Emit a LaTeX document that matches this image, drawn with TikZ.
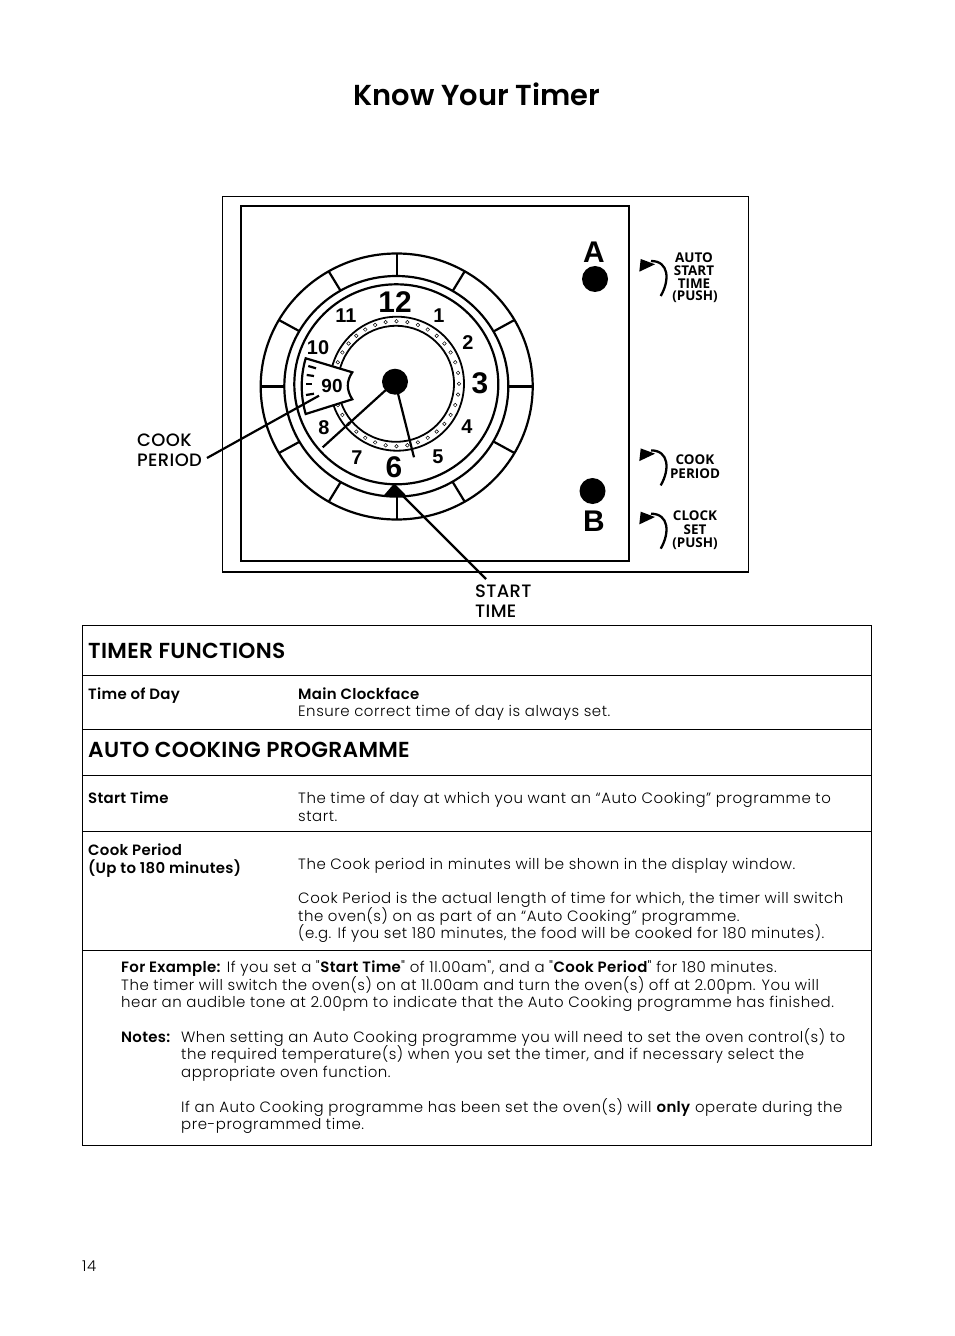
\documentclass[tikz,border=0pt]{standalone}
\usepackage{fontspec}
\usetikzlibrary{calc}
\defaultfontfeatures[\rmfamily]{}
\setmainfont{Poppins Light}[LetterSpace=3.6, BoldFont={Poppins SemiBold}, BoldFeatures={LetterSpace=2}]
\newfontfamily\dialfont{Liberation Sans}
\newfontfamily\keyfont{Open Sans}
\newfontfamily\headfont{Poppins SemiBold}
\newfontfamily\callfont{Poppins Medium}
\tikzset{
  bodytxt/.style={anchor=base west, inner sep=0pt, font=\fontsize{15}{17.5}\selectfont},
  headtxt/.style={anchor=base west, inner sep=0pt, font=\headfont\fontsize{21.8}{25}\selectfont\addfontfeature{LetterSpace=1.5}},
  calltxt/.style={anchor=base west, inner sep=0pt, font=\callfont\fontsize{18}{20}\selectfont\addfontfeature{LetterSpace=2}},
  keytxt/.style={anchor=center, inner sep=0pt, font=\keyfont\fontsize{13.5}{13}\selectfont\bfseries},
  hournum/.style={inner sep=0pt, font=\dialfont\fontsize{20}{20}\selectfont\bfseries},
  bighour/.style={inner sep=0pt, font=\dialfont\fontsize{30}{30}\selectfont\bfseries},
  rule/.style={line width=1bp},
  dialline/.style={line width=2.2bp},
  ringline/.style={line width=1.8bp},
  hubdisc/.style={circle, fill=black, inner sep=0pt, minimum size=26bp},
}
\begin{document}
\begin{tikzpicture}[x=1bp, y=-1bp]
  \useasboundingbox (0,0) rectangle (954,1336);
  % title
  \node[anchor=base, inner sep=0pt, font=\headfont\fontsize{29}{35}\selectfont] (title) at (477,106) {Know Your Timer};
  % panel
  \draw[rule] (222.5,196.5) rectangle (748.5,572);
  \draw[line width=1.5bp] (222.5,572) -- (748.5,572);
  \draw[line width=2bp] (241,206) rectangle (628.5,561);
  % dial rings
  \coordinate (c) at (396.7,386.5);
  \draw[dialline] (c) ellipse[x radius=136bp, y radius=133bp];
  \draw[dialline] (396.3,386.3) ellipse[x radius=112bp, y radius=110.3bp];
  \draw[dialline] (396.3,384.3) ellipse[x radius=102bp, y radius=100bp];
  \draw[ringline] (397,383.7) circle[radius=67bp];
  \draw[ringline] (396,383.8) circle[radius=58bp];
  \foreach \a in {0,30,...,330} {
    \draw[dialline] ($(c)+(\a:112bp and 110.3bp)$) -- ($(c)+(\a:136bp and 133bp)$);
  }
  \foreach \a in {0,10,...,350} {
    \draw[line width=0.5bp] ($(396.5,383.7)+(\a:62.5bp)$) circle[radius=1.8bp];
  }
  % hours
  \node[bighour] (h12) at (395,302) {12};
  \node[bighour] (h3) at (480,383) {3};
  \node[bighour] (h6) at (394,467) {6};
  \node[hournum] (h1) at (439,316) {1};
  \node[hournum] (h2) at (468,343) {2};
  \node[hournum] (h4) at (467,427) {4};
  \node[hournum] (h5) at (438,457) {5};
  \node[hournum] (h7) at (357,458) {7};
  \node[hournum] (h8) at (324,428) {8};
  \node[hournum] (h10) at (318,348) {10};
  \node[hournum] (h11) at (346,316) {11};
  % cook period window
  \draw[dialline, fill=white] (305.7,358.3) -- (352.3,372.3)
    .. controls (346.3,381) and (346.3,390) .. (352.3,399.3)
    -- (305.7,414) .. controls (300.4,396) and (300.4,376) .. (305.7,358.3) -- cycle;
  \draw[dialline] (308.3,366) -- (316,368.3);
  \draw[dialline] (306.7,375) -- (314,376);
  \draw[dialline] (306,384.3) -- (312.3,384.3);
  \draw[dialline] (306,395) -- (314,393.7);
  \node[hournum, font=\dialfont\fontsize{19}{19}\selectfont\bfseries] (win) at (332,386) {90};
  % hands
  \node[hubdisc] (hub) at (395,381.7) {};
  \coordinate (hl) at (322.7,447.3);
  \coordinate (hs) at (414,457.3);
  \draw[dialline] (hub.center) -- (hl);
  \draw[dialline] (hub.center) -- (hs);
  % callouts
  \node[calltxt] (cpa) at (137,446) {COOK};
  \node[calltxt] (cpb) at (137,466) {PERIOD};
  \node[calltxt] (sta) at (475,597) {START};
  \node[calltxt] (stb) at (475,617) {TIME};
  \coordinate (cpend) at (319,395.7);
  \coordinate (cpfoot) at (207,458);
  \coordinate (stfoot) at (486,579);
  \coordinate (sttip) at (395,488);
  \draw[dialline] (cpfoot) -- (cpend);
  \fill (394.3,483.3) -- (406.7,496) -- (383.3,496) -- cycle;
  \draw[dialline] (stfoot) -- (sttip);
  % A and B knobs
  \node[hubdisc] (knoba) at (595,279) {};
  \node[hubdisc] (knobb) at (592.5,491) {};
  \node[bighour] (la) at (594,252) {A};
  \node[bighour] (lb) at (594,521) {B};
  % turn arrows
  \foreach \dy in {0,189.4,252.7} {
    \begin{scope}[yshift={-\dy bp}]
      \draw[line width=2.3bp] (660.7,296) .. controls (670,280) and (669,261) .. (651,261);
      \fill (640.7,259) -- (655,264.3) -- (639.3,271.7) -- cycle;
    \end{scope}
  }
  \node[keytxt] (ka) at (694,258) {AUTO};
  \node[keytxt] (kb) at (694,271) {START};
  \node[keytxt] (kc) at (694,284) {TIME};
  \node[keytxt] (kd) at (695,297) {(PUSH)};
  \node[keytxt] (ke) at (695,459.5) {COOK};
  \node[keytxt] (kf) at (695,474) {PERIOD};
  \node[keytxt] (kg) at (695,515.5) {CLOCK};
  \node[keytxt] (kh) at (695,529.5) {SET};
  \node[keytxt] (ki) at (695,543.5) {(PUSH)};
  % table
  \draw[rule] (82.5,625.5) rectangle (871.5,1145.5);
  \foreach \y in {675.5,729.5,775.5,831.5,950.5} {
    \draw[rule] (82.5,\y) -- (871,\y);
  }
  \node[headtxt] (t1) at (88,658) {TIMER FUNCTIONS};
  \node[bodytxt] (t2) at (88,699) {\bfseries Time of Day};
  \node[bodytxt] (t3) at (298,699) {\bfseries Main Clockface};
  \node[bodytxt] (t4) at (298,716) {Ensure correct time of day is always set.};
  \node[headtxt] (t5) at (88,757) {AUTO COOKING PROGRAMME};
  \node[bodytxt] (t6) at (88,803) {\bfseries Start Time};
  \node[bodytxt] (t7) at (298,803) {The time of day at which you want an “Auto Cooking” programme to};
  \node[bodytxt] (t8) at (298,821) {start.};
  \node[bodytxt] (t9) at (88,855) {\bfseries Cook Period};
  \node[bodytxt] (t10) at (88,873) {\bfseries (Up to 180 minutes)};
  \node[bodytxt] (t11) at (298,869) {The Cook period in minutes will be shown in the display window.};
  \node[bodytxt] (t12) at (298,903) {Cook Period is the actual length of time for which, the timer will switch};
  \node[bodytxt] (t13) at (298,921) {the oven(s) on as part of an “Auto Cooking” programme.};
  \node[bodytxt] (t14) at (298,938) {(e.g. If you set 180 minutes, the food will be cooked for 180 minutes).};
  \node[bodytxt] (t15) at (121,972) {\textbf{For Example:} If you set a "\textbf{Start Time}" of 1l.00am", and a "\textbf{Cook Period}" for 180 minutes.};
  \node[bodytxt] (t16) at (121,990) {The timer will switch the oven(s) on at 1l.00am and turn the oven(s) off at 2.00pm. You will};
  \node[bodytxt] (t17) at (121,1007) {hear an audible tone at 2.00pm to indicate that the Auto Cooking programme has finished.};
  \node[bodytxt] (t18) at (121,1042) {\bfseries Notes:};
  \node[bodytxt] (t19) at (181,1042) {When setting an Auto Cooking programme you will need to set the oven control(s) to};
  \node[bodytxt] (t20) at (181,1059) {the required temperature(s) when you set the timer, and if necessary select the};
  \node[bodytxt] (t21) at (181,1077) {appropriate oven function.};
  \node[bodytxt] (t22) at (181,1112) {If an Auto Cooking programme has been set the oven(s) will \textbf{only} operate during the};
  \node[bodytxt] (t23) at (181,1129) {pre-programmed time.};
  \node[bodytxt] (pageno) at (82,1271) {14};
\end{tikzpicture}
\end{document}
